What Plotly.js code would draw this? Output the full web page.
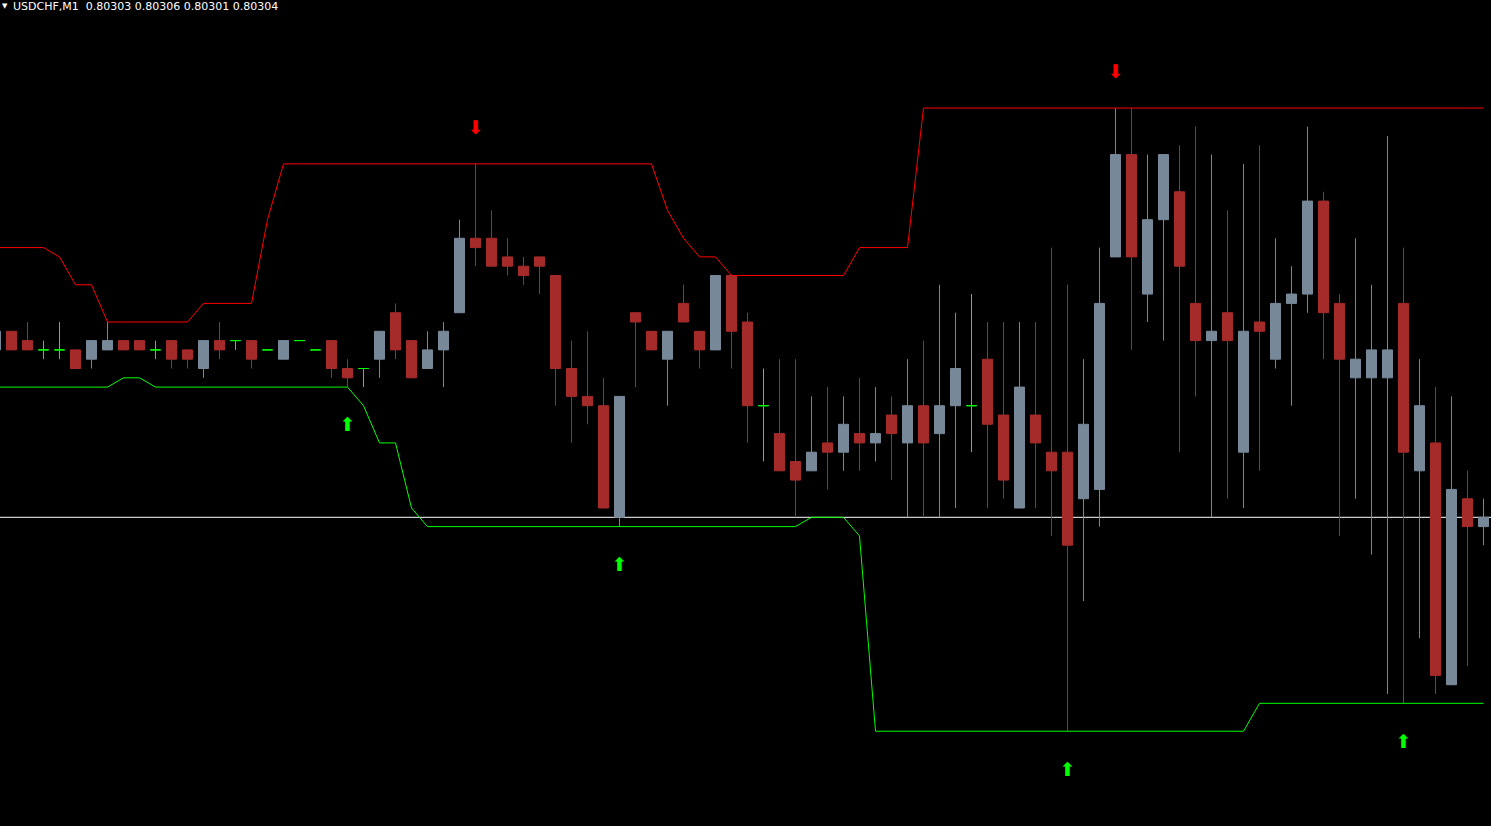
<!DOCTYPE html>
<html>
<head>
<meta charset="utf-8">
<script src="https://cdn.plot.ly/plotly-3.0.1.min.js"></script>
<style>
  html, body { margin: 0; padding: 0; background: #000; overflow: hidden; }
  #chart { width: 1491px; height: 826px; }
</style>
</head>
<body>
<div id="chart"></div>
<script>
// ---- data (bar -1 is the partly visible bar at the left edge) ----
const symbol = "USDCHF,M1";

const open = [
  0.80322, 0.80324, 0.80323, 0.80322, 0.80322, 0.80322, 0.80321, 0.80322, 0.80323, 0.80323,
  0.80322, 0.80323, 0.80322, 0.80320, 0.80323, 0.80323, 0.80323, 0.80322, 0.80321, 0.80323,
  0.80322, 0.80323, 0.80320, 0.80320, 0.80321, 0.80326, 0.80323, 0.80320, 0.80322, 0.80326,
  0.80334, 0.80334, 0.80332, 0.80331, 0.80332, 0.80330, 0.80320, 0.80317, 0.80316, 0.80304,
  0.80326, 0.80324, 0.80321, 0.80327, 0.80324, 0.80322, 0.80330, 0.80325, 0.80316, 0.80313,
  0.80310, 0.80309, 0.80312, 0.80311, 0.80313, 0.80312, 0.80315, 0.80312, 0.80316, 0.80313,
  0.80316, 0.80316, 0.80321, 0.80315, 0.80305, 0.80315, 0.80311, 0.80311, 0.80306, 0.80307,
  0.80332, 0.80343, 0.80328, 0.80336, 0.80339, 0.80327, 0.80323, 0.80326, 0.80311, 0.80325,
  0.80321, 0.80327, 0.80328, 0.80338, 0.80327, 0.80319, 0.80319, 0.80319, 0.80327, 0.80309,
  0.80312, 0.80286, 0.80306, 0.80303
];
const high = [
  0.80324, 0.80324, 0.80325, 0.80323, 0.80325, 0.80322, 0.80323, 0.80325, 0.80323, 0.80323,
  0.80323, 0.80323, 0.80322, 0.80323, 0.80325, 0.80323, 0.80323, 0.80322, 0.80323, 0.80323,
  0.80322, 0.80323, 0.80321, 0.80320, 0.80324, 0.80327, 0.80323, 0.80324, 0.80325, 0.80336,
  0.80342, 0.80337, 0.80334, 0.80332, 0.80332, 0.80330, 0.80323, 0.80324, 0.80319, 0.80317,
  0.80326, 0.80324, 0.80324, 0.80329, 0.80324, 0.80330, 0.80330, 0.80326, 0.80320, 0.80321,
  0.80321, 0.80317, 0.80318, 0.80317, 0.80319, 0.80318, 0.80317, 0.80321, 0.80323, 0.80329,
  0.80326, 0.80328, 0.80325, 0.80325, 0.80325, 0.80325, 0.80333, 0.80329, 0.80321, 0.80333,
  0.80348, 0.80348, 0.80343, 0.80343, 0.80344, 0.80346, 0.80343, 0.80337, 0.80342, 0.80344,
  0.80334, 0.80331, 0.80346, 0.80339, 0.80328, 0.80334, 0.80329, 0.80345, 0.80333, 0.80321,
  0.80318, 0.80317, 0.80309, 0.80306
];
const low = [
  0.80322, 0.80322, 0.80322, 0.80321, 0.80321, 0.80320, 0.80320, 0.80322, 0.80322, 0.80322,
  0.80321, 0.80320, 0.80320, 0.80319, 0.80321, 0.80322, 0.80320, 0.80322, 0.80321, 0.80323,
  0.80322, 0.80319, 0.80318, 0.80318, 0.80319, 0.80321, 0.80319, 0.80320, 0.80318, 0.80326,
  0.80331, 0.80331, 0.80330, 0.80329, 0.80328, 0.80316, 0.80312, 0.80314, 0.80305, 0.80303,
  0.80318, 0.80322, 0.80316, 0.80325, 0.80320, 0.80322, 0.80320, 0.80312, 0.80310, 0.80309,
  0.80304, 0.80309, 0.80307, 0.80309, 0.80309, 0.80310, 0.80308, 0.80304, 0.80304, 0.80304,
  0.80305, 0.80311, 0.80305, 0.80306, 0.80305, 0.80305, 0.80302, 0.80281, 0.80295, 0.80303,
  0.80332, 0.80322, 0.80325, 0.80323, 0.80311, 0.80317, 0.80304, 0.80306, 0.80305, 0.80309,
  0.80320, 0.80316, 0.80326, 0.80321, 0.80302, 0.80306, 0.80300, 0.80285, 0.80284, 0.80291,
  0.80285, 0.80286, 0.80288, 0.80301
];
const close = [
  0.80324, 0.80322, 0.80322, 0.80322, 0.80322, 0.80320, 0.80323, 0.80323, 0.80322, 0.80322,
  0.80322, 0.80321, 0.80321, 0.80323, 0.80322, 0.80323, 0.80321, 0.80322, 0.80323, 0.80323,
  0.80322, 0.80320, 0.80319, 0.80320, 0.80324, 0.80322, 0.80319, 0.80322, 0.80324, 0.80334,
  0.80333, 0.80331, 0.80331, 0.80330, 0.80331, 0.80320, 0.80317, 0.80316, 0.80305, 0.80317,
  0.80325, 0.80322, 0.80324, 0.80325, 0.80322, 0.80330, 0.80324, 0.80316, 0.80316, 0.80309,
  0.80308, 0.80311, 0.80311, 0.80314, 0.80312, 0.80313, 0.80313, 0.80316, 0.80312, 0.80316,
  0.80320, 0.80316, 0.80314, 0.80308, 0.80318, 0.80312, 0.80309, 0.80301, 0.80314, 0.80327,
  0.80343, 0.80332, 0.80336, 0.80343, 0.80331, 0.80323, 0.80324, 0.80323, 0.80324, 0.80324,
  0.80327, 0.80328, 0.80338, 0.80326, 0.80321, 0.80321, 0.80322, 0.80322, 0.80311, 0.80316,
  0.80287, 0.80307, 0.80303, 0.80304
];
// channel indicator (upper = red, lower = lime)
const upperBand = [
  0.80333, 0.80333, 0.80333, 0.80333, 0.80332, 0.80329, 0.80329, 0.80325, 0.80325, 0.80325,
  0.80325, 0.80325, 0.80325, 0.80327, 0.80327, 0.80327, 0.80327, 0.80336, 0.80342, 0.80342,
  0.80342, 0.80342, 0.80342, 0.80342, 0.80342, 0.80342, 0.80342, 0.80342, 0.80342, 0.80342,
  0.80342, 0.80342, 0.80342, 0.80342, 0.80342, 0.80342, 0.80342, 0.80342, 0.80342, 0.80342,
  0.80342, 0.80342, 0.80337, 0.80334, 0.80332, 0.80332, 0.80330, 0.80330, 0.80330, 0.80330,
  0.80330, 0.80330, 0.80330, 0.80330, 0.80333, 0.80333, 0.80333, 0.80333, 0.80348, 0.80348,
  0.80348, 0.80348, 0.80348, 0.80348, 0.80348, 0.80348, 0.80348, 0.80348, 0.80348, 0.80348,
  0.80348, 0.80348, 0.80348, 0.80348, 0.80348, 0.80348, 0.80348, 0.80348, 0.80348, 0.80348,
  0.80348, 0.80348, 0.80348, 0.80348, 0.80348, 0.80348, 0.80348, 0.80348, 0.80348, 0.80348,
  0.80348, 0.80348, 0.80348, 0.80348
];
const lowerBand = [
  0.80318, 0.80318, 0.80318, 0.80318, 0.80318, 0.80318, 0.80318, 0.80318, 0.80319, 0.80319,
  0.80318, 0.80318, 0.80318, 0.80318, 0.80318, 0.80318, 0.80318, 0.80318, 0.80318, 0.80318,
  0.80318, 0.80318, 0.80318, 0.80316, 0.80312, 0.80312, 0.80305, 0.80303, 0.80303, 0.80303,
  0.80303, 0.80303, 0.80303, 0.80303, 0.80303, 0.80303, 0.80303, 0.80303, 0.80303, 0.80303,
  0.80303, 0.80303, 0.80303, 0.80303, 0.80303, 0.80303, 0.80303, 0.80303, 0.80303, 0.80303,
  0.80303, 0.80304, 0.80304, 0.80304, 0.80302, 0.80281, 0.80281, 0.80281, 0.80281, 0.80281,
  0.80281, 0.80281, 0.80281, 0.80281, 0.80281, 0.80281, 0.80281, 0.80281, 0.80281, 0.80281,
  0.80281, 0.80281, 0.80281, 0.80281, 0.80281, 0.80281, 0.80281, 0.80281, 0.80281, 0.80284,
  0.80284, 0.80284, 0.80284, 0.80284, 0.80284, 0.80284, 0.80284, 0.80284, 0.80284, 0.80284,
  0.80284, 0.80284, 0.80284, 0.80284
];
// signal arrows (bar numbers)
const sellSignals = [29, 69];
const buySignals = [21, 38, 66, 87];

// ---- axes ----
const W = 1491, H = 826;
const xRange = [-0.71875, -0.71875 + W / 16];
const yRange = [0.8027081, 0.8035962];

// ---- build traces ----
const firstBar = -1;
const bars = open.map((_, k) => k + firstBar);
const pos = b => b - firstBar;

const BULL = '#778899', BEAR = '#A52A2A', DOJI = '#00FF00';

function subset(test) {
  const s = { x: [], open: [], high: [], low: [], close: [] };
  bars.forEach((b, k) => {
    if (test(open[k], close[k])) {
      s.x.push(b); s.open.push(open[k]); s.high.push(high[k]);
      s.low.push(low[k]); s.close.push(close[k]);
    }
  });
  return s;
}
function candles(s, color) {
  return {
    type: 'candlestick', x: s.x, open: s.open, high: s.high, low: s.low, close: s.close,
    increasing: { line: { color: color, width: 1 }, fillcolor: color },
    decreasing: { line: { color: color, width: 1 }, fillcolor: color },
    whiskerwidth: 0, hoverinfo: 'skip', showlegend: false
  };
}
function arrowText(list, yOf, glyph, color) {
  return {
    type: 'scatter', mode: 'text', x: list, y: list.map(yOf),
    text: list.map(() => glyph), textposition: 'middle center',
    textfont: { color: color, size: 19, family: 'DejaVu Sans' },
    hoverinfo: 'skip'
  };
}

const traces = [
  { type: 'scatter', mode: 'lines', x: bars, y: upperBand,
    line: { color: '#FF0000', width: 1 }, hoverinfo: 'skip' },
  { type: 'scatter', mode: 'lines', x: bars, y: lowerBand,
    line: { color: '#00FF00', width: 1 }, hoverinfo: 'skip' },
  candles(subset((o, c) => c > o), BULL),
  candles(subset((o, c) => c < o), BEAR),
  candles(subset((o, c) => c === o), DOJI),
  arrowText(sellSignals, b => high[pos(b)] + 0.0000375, '\u2B07', '#FF0000'),
  arrowText(buySignals, b => low[pos(b)] - 0.0000425, '\u2B06', '#00FF00')
];

const last = close.length - 1;
const header = symbol + '&nbsp; ' + [open[last], high[last], low[last], close[last]]
  .map(v => v.toFixed(5)).join(' ');
const bid = close[last];

const layout = {
  width: W, height: H,
  margin: { l: 0, r: 0, t: 0, b: 0, pad: 0 },
  paper_bgcolor: '#000000', plot_bgcolor: '#000000',
  showlegend: false,
  boxmode: 'overlay', boxgap: 0.375, boxgroupgap: 0,
  xaxis: { range: xRange, visible: false, showgrid: false, zeroline: false,
           rangeslider: { visible: false }, fixedrange: true },
  yaxis: { range: yRange, visible: false, showgrid: false, zeroline: false,
           fixedrange: true },
  shapes: [
    { type: 'line', xref: 'paper', x0: 0, x1: 1, yref: 'y', y0: bid, y1: bid,
      line: { color: '#FFFFFF', width: 1 }, layer: 'below' }
  ],
  annotations: [
    { xref: 'paper', yref: 'paper', x: 0.0003, y: 1, xanchor: 'left', yanchor: 'top',
      text: '\u25BC', showarrow: false, yshift: 0,
      font: { color: '#FFFFFF', size: 7, family: 'DejaVu Sans' } },
    { xref: 'paper', yref: 'paper', x: 12 / 1491, y: 1, xanchor: 'left', yanchor: 'top',
      text: header, showarrow: false, yshift: 1, borderpad: 0,
      font: { color: '#FFFFFF', size: 11, family: 'DejaVu Sans' } }
  ]
};

Plotly.newPlot('chart', traces, layout, { staticPlot: true, displayModeBar: false });
</script>
</body>
</html>
